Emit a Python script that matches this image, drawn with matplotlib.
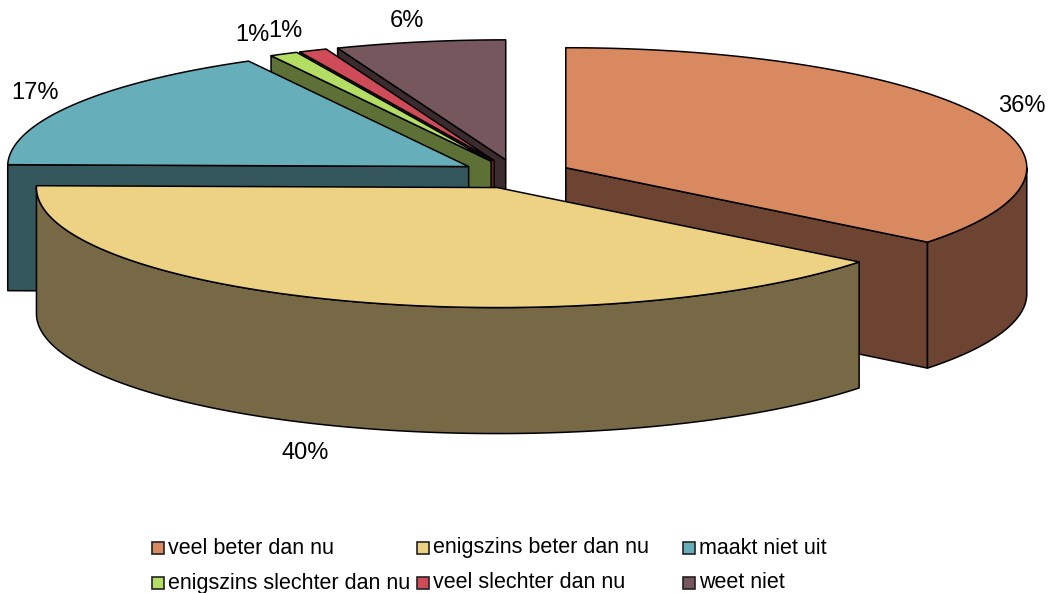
import numpy as np
import matplotlib.pyplot as plt
from matplotlib.patches import Polygon, Rectangle

plt.rcParams['font.family'] = ['Liberation Sans', 'DejaVu Sans']

# data
categories = ['veel beter dan nu', 'enigszins beter dan nu', 'maakt niet uit',
              'enigszins slechter dan nu', 'veel slechter dan nu', 'weet niet']
values = [36, 40, 17, 1, 1, 6]
labels = ['36%', '40%', '17%', '1%', '1%', '6%']

top_colors = ['#D9895F', '#EED283', '#66AFBA', '#B3DD63', '#D04B58', '#76575D']
side_colors = ['#6D4431', '#786946', '#34575E', '#5D7137', '#6B262C', '#3B2B2E']

# geometry of the 3d pie (pixel units)
cx, cy = 516, 174
rx, ry = 461, 120
h = 126
explode = 0.12

fig = plt.figure(figsize=(10.52, 5.93), dpi=100)
ax = fig.add_axes([0, 0, 1, 1])
ax.set_xlim(0, 1052)
ax.set_ylim(593, 0)
ax.axis('off')


def rim(apex, t, k=1.0):
    r = np.radians(t)
    return apex[0] + k * rx * np.sin(r), apex[1] - k * ry * np.cos(r)


def arc(apex, t0, t1):
    ts = np.linspace(t0, t1, max(int(abs(t1 - t0)) * 2, 2))
    xs, ys = rim(apex, ts)
    return np.column_stack([xs, ys])


def face(pts, fc):
    ax.add_patch(Polygon(pts, closed=True, fc=fc, ec='black', lw=1.1, joinstyle='round'))


fr = np.array(values, dtype=float) / sum(values)
ends = np.cumsum(fr) * 360
starts = ends - fr * 360
mids = (starts + ends) / 2

apexes = []
for m in mids:
    r = np.radians(m)
    apexes.append((cx + explode * rx * np.sin(r), cy - explode * ry * np.cos(r)))

# back to front
order = np.argsort(-np.cos(np.radians(mids)))
for i in order:
    t0, t1 = starts[i], ends[i]
    ap = apexes[i]
    # start face
    if np.sin(np.radians(t0)) < -1e-6:
        p = rim(ap, t0)
        face([ap, p, (p[0], p[1] + h), (ap[0], ap[1] + h)], side_colors[i])
    # end face
    if np.sin(np.radians(t1)) > 1e-6:
        p = rim(ap, t1)
        face([ap, p, (p[0], p[1] + h), (ap[0], ap[1] + h)], side_colors[i])
    # outer curved side (front half only)
    a, b = max(t0, 90), min(t1, 270)
    if b > a:
        top = arc(ap, a, b)
        bot = top[::-1] + [0, h]
        face(np.vstack([top, bot]), side_colors[i])
    # top face
    face(np.vstack([[ap], arc(ap, t0, t1)]), top_colors[i])

# percentage labels
for i in range(len(values)):
    r = np.radians(mids[i])
    front = np.cos(r) < 0
    if front:
        kx = 1.24
    elif abs(np.sin(r)) < 0.5:
        kx = 1.15
    else:
        kx = 1.1
    lx = apexes[i][0] + kx * rx * np.sin(r)
    ly = apexes[i][1] - 1.18 * ry * np.cos(r)
    if front:
        ly += h + 6
    ax.text(lx, ly, labels[i], ha='center', va='center', fontsize=17, color='black')

# legend
leg_x = [152, 417, 683]
leg_y = [548, 583]
for i, name in enumerate(categories):
    x = leg_x[i % 3]
    y = leg_y[i // 3]
    ax.add_patch(Rectangle((x, y - 6), 12, 12, fc=top_colors[i], ec='#222222', lw=1.2))
    ax.text(x + 16, y, name, ha='left', va='center', fontsize=15.5, color='black')

fig.savefig('out.png', dpi=100)
